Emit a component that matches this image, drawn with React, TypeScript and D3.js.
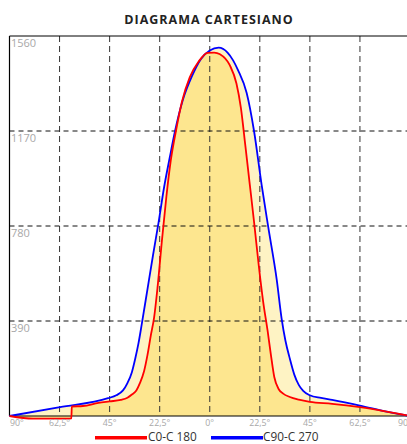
import React from "react";
import * as d3 from "d3";

// C0-C180 curve (angle in degrees, intensity in cd)
const redAngles = [-90, -79.4, -64.3, -62.2, -62.0, -57, -50, -45, -40, -37, -35, -33, -31.4, -29.5, -28, -26.5, -25, -23.5, -21.5, -19.5, -17.5, -15.2, -12.5, -9, -5, -1, 2, 4.6, 9, 12, 14, 16, 18, 20, 22, 24, 26, 27.5, 29, 31, 33, 36, 40, 45, 55, 67.5, 79.5, 90];
const redValues = [0, -11, -11, -10, 39, 41, 54, 60, 66, 75, 88, 105, 135, 185, 250, 330, 405, 525, 720, 900, 1050, 1170, 1290, 1390, 1455, 1491, 1492, 1485, 1440, 1365, 1265, 1110, 950, 790, 620, 470, 350, 250, 160, 110, 92, 78, 67, 58, 50, 36, 18, 0];

// C90-C270 curve
const blueAngles = [-90, -67.3, -45.7, -42, -39, -37, -35, -33.5, -32, -30.5, -28, -25.5, -23, -20.5, -18, -15.6, -12, -8, -4, 0, 4, 8, 10.5, 12.7, 16.6, 19.9, 23.3, 26.3, 30.1, 32.3, 34, 36, 38, 40, 42, 45, 50, 55, 67.5, 79.5, 90];
const blueValues = [0, 36, 73, 85, 105, 135, 180, 235, 300, 380, 520, 660, 795, 940, 1060, 1170, 1300, 1395, 1465, 1500, 1512, 1492, 1460, 1420, 1326, 1170, 950, 775, 560, 400, 310, 235, 170, 128, 103, 85, 74, 66, 43, 18, 0];

const xTicks = [-90, -67.5, -45, -22.5, 0, 22.5, 45, 67.5, 90];
const xTickLabels = ["90°", "62,5°", "45°", "22,5°", "0°", "22,5°", "45°", "62,5°", "90°"];
const yTicks = [390, 780, 1170, 1560];
const yTickLabels = ["390", "780", "1170", "1560"];

const width = 407;
const height = 444;
const font = "'Open Sans', 'DejaVu Sans', sans-serif";

const App = () => {
    const x = d3.scaleLinear().domain([-90, 90]).range([9.5, 410]);
    const y = d3.scaleLinear().domain([0, 1560]).range([416, 36]);

    const red = redAngles.map((a, i) => [a, redValues[i]] as [number, number]);
    const blue = blueAngles.map((a, i) => [a, blueValues[i]] as [number, number]);

    const line = d3.line<[number, number]>()
        .x(d => x(d[0]))
        .y(d => y(d[1]))
        .curve(d3.curveMonotoneX);

    const area = d3.area<[number, number]>()
        .x(d => x(d[0]))
        .y0(y(0))
        .y1(d => y(d[1]))
        .curve(d3.curveMonotoneX);

    return (
        <svg width={width} height={height} style={{ position: "absolute", left: 0, top: 0 }}>
            <rect width={width} height={height} fill="#fff" />
            <text x={209} y={24} textAnchor="middle" fontFamily={font} fontWeight={700}
                fontSize={12.5} letterSpacing={1} fill="#222">DIAGRAMA CARTESIANO</text>

            {/* fills */}
            <path d={area(blue) || ""} fill="#fef3c4" />
            <path d={area(red) || ""} fill="#fde68f" />

            {/* grid */}
            {xTicks.slice(1, -1).map(t => (
                <line key={"v" + t} x1={x(t)} x2={x(t)} y1={y(1560)} y2={y(0)}
                    stroke="#333" strokeDasharray="6,4" />
            ))}
            {yTicks.slice(0, -1).map(t => (
                <line key={"h" + t} x1={x(-90)} x2={width} y1={y(t)} y2={y(t)}
                    stroke="#111" strokeDasharray="5,4" />
            ))}

            {/* frame */}
            <line x1={x(-90)} x2={width} y1={y(1560)} y2={y(1560)} stroke="#000" />
            <line x1={x(-90)} x2={width} y1={y(0)} y2={y(0)} stroke="#000" strokeWidth={1.2} />
            <line x1={x(-90)} x2={x(-90)} y1={y(1560)} y2={y(0)} stroke="#000" strokeWidth={1.2} />

            {/* curves */}
            <path d={line(blue) || ""} fill="none" stroke="#0000ff" strokeWidth={1.8} />
            <path d={line(red) || ""} fill="none" stroke="#ff0000" strokeWidth={1.8} />

            {/* y labels */}
            {yTicks.map((t, i) => (
                <text key={"yl" + t} x={11} y={y(t) + 11} fontFamily={font} fontSize={11}
                    fill="#a8a8a8">{yTickLabels[i]}</text>
            ))}

            {/* x labels */}
            {xTicks.map((t, i) => (
                <text key={"xl" + i} x={i === 0 ? x(t) + 0.5 : i === xTicks.length - 1 ? x(t) - 5 : x(t)} y={426}
                    textAnchor={i === 0 ? "start" : "middle"} fontFamily={font} fontSize={8.8}
                    fill="#a8a8a8">{xTickLabels[i]}</text>
            ))}

            {/* legend */}
            <line x1={95} x2={147} y1={437.8} y2={437.8} stroke="#ff0000" strokeWidth={3.6} />
            <text x={148} y={441.4} fontFamily={font} fontSize={11.8} fill="#333">C0-C 180</text>
            <line x1={211} x2={263} y1={437.8} y2={437.8} stroke="#0000ff" strokeWidth={3.6} />
            <text x={263} y={441.4} fontFamily={font} fontSize={11.8} fill="#333">C90-C 270</text>
        </svg>
    );
};

export default App;
